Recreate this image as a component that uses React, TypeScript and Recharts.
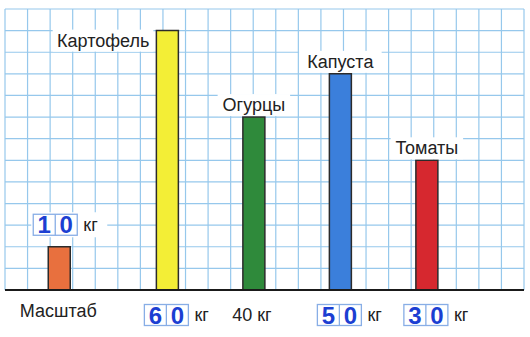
import React from "react";
import { ComposedChart, Bar, Cell, XAxis, YAxis, CartesianGrid, ReferenceLine, LabelList } from "recharts";

// ---- data ----
const CATEGORIES = ["Масштаб", "Картофель", "Огурцы", "Капуста", "Томаты"];
const WEIGHTS_KG = [10, 60, 40, 50, 30];
const ANSWER_IN_CELLS = [true, true, false, true, true];
const UNIT = "кг";
const Y_TICKS = [0, 5, 10, 15, 20, 25, 30, 35, 40, 45, 50, 55, 60, 65];

// ---- layout / style ----
const BAR_COLUMNS = [2, 7, 11, 15, 19];
const GRID_COLUMNS = 24;
const BAR_COLORS = ["#e8703e", "#f3ee36", "#2f8a3b", "#3b7fdb", "#d6282f"];
const GRID_COLOR = "#96c8ec";
const FONT = "'Liberation Sans', Arial, sans-serif";
const DIGIT_COLOR = "#1c3fd2";
const BOX_COLOR = "#88aee6";

const rows = Array.from({ length: GRID_COLUMNS }, (_, col) => {
  const k = BAR_COLUMNS.indexOf(col);
  return { col, kg: k >= 0 ? WEIGHTS_KG[k] : null, k };
});
const gridTicks = Array.from({ length: GRID_COLUMNS + 1 }, (_, i) => i);

const textW = (s: string, fs: number) => s.length * fs * 0.56;

function DigitBox({ cx, cy, value }: { cx: number; cy: number; value: number }) {
  const digits = String(value).split("");
  const cw = 22;
  const h = 21;
  const w = cw * digits.length;
  const x0 = cx - w / 2;
  return (
    <g>
      <rect x={x0 - 2} y={cy - h / 2 - 2} width={w + 4 + 28} height={h + 4} fill="#fff" />
      <rect x={x0} y={cy - h / 2} width={w} height={h} fill="#fff" stroke={BOX_COLOR} strokeWidth={1.3} />
      {digits.map((d, i) =>
        i > 0 ? (
          <line key={"l" + i} x1={x0 + cw * i} x2={x0 + cw * i} y1={cy - h / 2} y2={cy + h / 2} stroke={BOX_COLOR} strokeWidth={1.3} />
        ) : null
      )}
      {digits.map((d, i) => (
        <text key={i} x={x0 + cw * i + cw / 2} y={cy + 8.5} textAnchor="middle" fontFamily={FONT} fontWeight="bold" fontSize={24} fill={DIGIT_COLOR}>
          {d}
        </text>
      ))}
      <text x={x0 + w + 6} y={cy + 6} fontFamily={FONT} fontSize={18} fill="#222">
        {UNIT}
      </text>
    </g>
  );
}

function BarLabels(props: any) {
  const { x, y, width, height, value } = props;
  const row = rows.find((r) => r.col === value);
  if (!row || row.k < 0) return null;
  const k = row.k;
  const cx = x + width / 2;
  const base = y + height;
  const name = CATEGORIES[k];
  const fs = 18;
  const parts: React.ReactNode[] = [];

  if (k === 0) {
    parts.push(<DigitBox key="box" cx={cx - 4} cy={y - 22} value={WEIGHTS_KG[k]} />);
    parts.push(
      <text key="n" x={cx - 1} y={base + 27} textAnchor="middle" fontFamily={FONT} fontSize={fs} fill="#222">
        {name}
      </text>
    );
  } else {
    const tw = textW(name, fs);
    if (k === 1) {
      const rx = x - 7;
      const cy = y + 10;
      parts.push(<rect key="bg" x={rx - tw - 6} y={cy - 11} width={tw + 10} height={22} fill="#fff" />);
      parts.push(
        <text key="n" x={rx} y={cy + 6} textAnchor="end" fontFamily={FONT} fontSize={fs} fill="#222">
          {name}
        </text>
      );
    } else {
      const cy = y - 12;
      parts.push(<rect key="bg" x={cx - tw / 2 - 6} y={cy - 11} width={tw + 12} height={22} fill="#fff" />);
      parts.push(
        <text key="n" x={cx} y={cy + 6} textAnchor="middle" fontFamily={FONT} fontSize={fs} fill="#222">
          {name}
        </text>
      );
    }
    if (ANSWER_IN_CELLS[k]) {
      parts.push(<DigitBox key="box" cx={cx - 1} cy={base + 25} value={WEIGHTS_KG[k]} />);
    } else {
      parts.push(
        <text key="v" x={cx - 2} y={base + 31} textAnchor="middle" fontFamily={FONT} fontSize={18} fill="#222">
          {`${WEIGHTS_KG[k]} ${UNIT}`}
        </text>
      );
    }
  }
  return <g>{parts}</g>;
}

export default function App() {
  return (
    <div style={{ position: "absolute", left: 0, top: 0, width: 530, height: 337, background: "#fff" }}>
      <ComposedChart
        width={530}
        height={337}
        data={rows}
        margin={{ top: 9, right: 6, bottom: 47, left: 5 }}
        barCategoryGap={0}
        barGap={0}
      >
        <XAxis xAxisId="cat" dataKey="col" type="category" hide />
        <XAxis xAxisId="grid" type="number" domain={[0, GRID_COLUMNS]} ticks={gridTicks} interval={0} hide allowDataOverflow />
        <YAxis yAxisId="y" type="number" domain={[0, 65]} ticks={Y_TICKS} interval={0} hide allowDataOverflow />
        <CartesianGrid xAxisId="grid" yAxisId="y" stroke={GRID_COLOR} strokeWidth={1.2} />
        <ReferenceLine xAxisId="grid" yAxisId="y" y={0} stroke="#1a1a1a" strokeWidth={2} />
        <Bar xAxisId="cat" yAxisId="y" dataKey="kg" isAnimationActive={false} stroke="#2b2b2b" strokeWidth={1.5}>
          {rows.map((r) => (
            <Cell key={r.col} fill={r.k >= 0 ? BAR_COLORS[r.k] : "none"} />
          ))}
          <LabelList dataKey="col" content={BarLabels} />
        </Bar>
      </ComposedChart>
    </div>
  );
}
